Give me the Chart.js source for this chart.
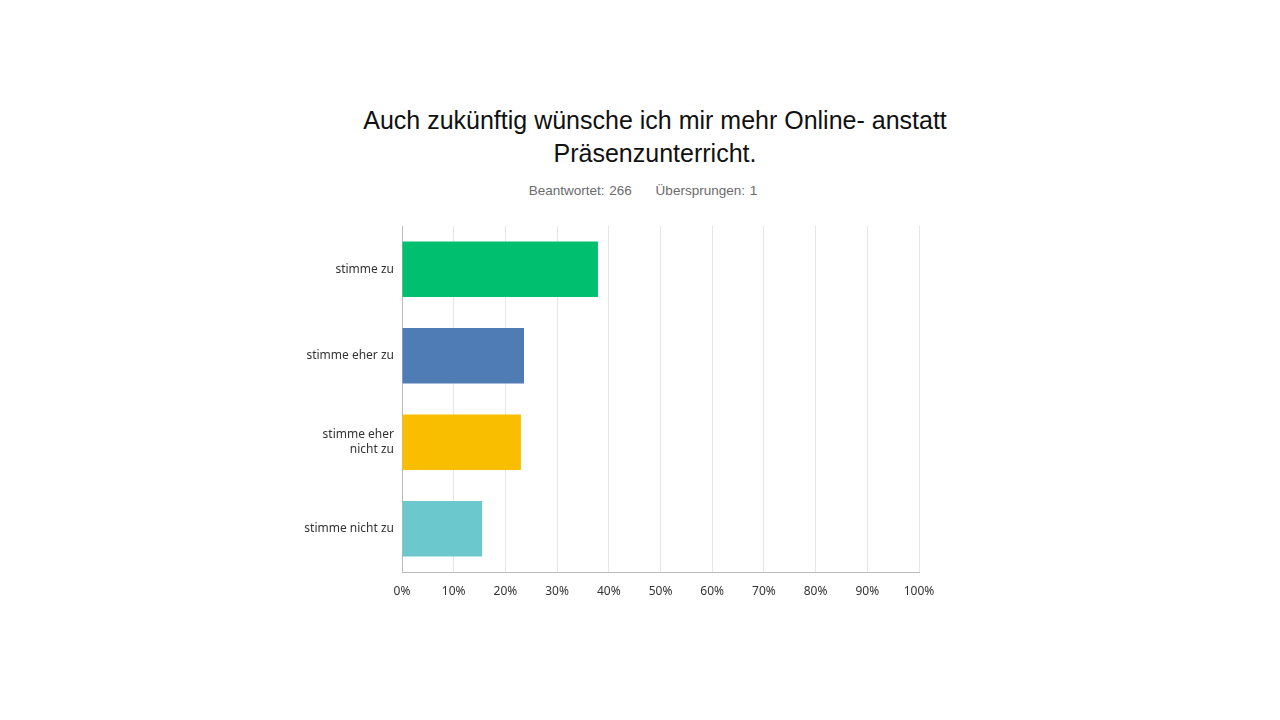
<!DOCTYPE html>
<html>
<head>
<meta charset="utf-8">
<script src="https://cdn.jsdelivr.net/npm/chart.js@4/dist/chart.umd.min.js"></script>
<style>
  body { margin: 0; background: #fff; font-family: "Liberation Sans", Arial, sans-serif; }
  #wrap { position: relative; width: 1280px; height: 720px; }
  #title { position: absolute; top: 104px; left: 0; width: 1310px; text-align: center; font-size: 25px; line-height: 33px; color: #111; }
  #sub { position: absolute; top: 183px; left: 0; width: 1286px; text-align: center; font-size: 13.5px; color: #6b6b6b; word-spacing: 1px; }
  canvas { position: absolute; top: 0; left: 0; }
</style>
</head>
<body>
<div id="wrap">
  <div id="title">Auch zukünftig wünsche ich mir mehr Online- anstatt<br>Präsenzunterricht.</div>
  <div id="sub">Beantwortet: 266 &nbsp;&nbsp;&nbsp;&nbsp;Übersprungen: 1</div>
  <canvas id="myChart" width="1280" height="720"></canvas>
</div>
<script>
let categories = ['stimme zu', 'stimme eher zu', ['stimme eher', 'nicht zu'], 'stimme nicht zu'];
let percentages = [37.9, 23.6, 23.0, 15.5];
let barColors = ['#00bf6f', '#507cb6', '#f9be00', '#6bc8cd'];

const ctx = document.getElementById('myChart');

let myChart = new Chart(ctx, {
  type: 'bar',
  data: {
    labels: categories,
    datasets: [{
      data: percentages,
      backgroundColor: barColors,
      barPercentage: 0.64,
      categoryPercentage: 1
    }]
  },
  options: {
    indexAxis: 'y',
    responsive: false,
    animation: false,
    layout: { padding: { left: 290, right: 361, top: 226, bottom: 100 } },
    plugins: {
      legend: { display: false },
      tooltip: { enabled: false }
    },
    scales: {
      x: {
        min: 0,
        max: 100,
        ticks: {
          stepSize: 10,
          padding: 12,
          color: '#333',
          font: { family: 'Noto Sans', size: 12 },
          callback: v => v + '%'
        },
        grid: { color: '#e6e6e6', drawTicks: false },
        border: { color: '#bbb' },
        afterFit: s => { s.height = 48; }
      },
      y: {
        ticks: {
          padding: 8,
          color: '#333',
          font: { family: 'Noto Sans', size: 12 }
        },
        grid: { display: false, drawTicks: false },
        border: { color: '#bbb' },
        afterFit: s => { s.width = 112; }
      }
    }
  }
});
</script>
</body>
</html>
